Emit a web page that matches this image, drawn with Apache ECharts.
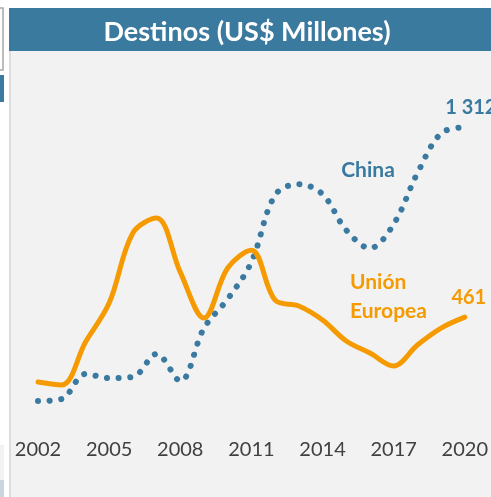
<!DOCTYPE html>
<html>
<head>
<meta charset="utf-8">
<script src="https://cdn.jsdelivr.net/npm/echarts@6/dist/echarts.min.js"></script>
<style>
  html, body { margin: 0; padding: 0; background: #ffffff; }
  #chart { width: 491px; height: 497px; }
</style>
</head>
<body>
<div id="chart"></div>
<script>
// datos (US$ millones)
var years = ['2002','2003','2004','2005','2006','2007','2008','2009','2010','2011',
             '2012','2013','2014','2015','2016','2017','2018','2019','2020'];
var china = [85, 94, 206, 188, 193, 296, 175, 412, 542, 708,
             1008, 1057, 1012, 851, 770, 878, 1106, 1285, 1312];
var ue    = [170, 157, 349, 524, 838, 905, 663, 457, 681, 761,
             537, 511, 448, 354, 300, 242, 336, 412, 461];

var azul = '#3a79a0';
var naranja = '#f59a00';
var fuente = 'Lato, "Open Sans", sans-serif';

function fmt(v) {
    return String(v).replace(/\B(?=(\d{3})+(?!\d))/g, ' ');
}

// solo el último punto lleva rótulo
function conEtiqueta(arr, color, offset) {
    return arr.map(function (v, i) {
        if (i !== arr.length - 1) return v;
        return {
            value: v,
            label: {
                show: true, position: 'top', distance: 10, offset: offset,
                formatter: fmt(v), color: color,
                fontSize: 20, fontWeight: 'bold', fontFamily: fuente
            }
        };
    });
}

var myChart = echarts.init(document.getElementById('chart'));

var option = {
    backgroundColor: '#ffffff',
    animation: false,
    graphic: [
        // caja gris arriba a la izquierda
        { type: 'rect', shape: { x: -4, y: 8, width: 7, height: 62 },
          style: { fill: '#ffffff', stroke: '#a6a6a6', lineWidth: 1.5 }, z: -5 },
        { type: 'rect', shape: { x: 0, y: 75, width: 4, height: 27 },
          style: { fill: azul }, z: -5 },
        { type: 'rect', shape: { x: 0, y: 445, width: 4, height: 35 },
          style: { fill: '#f2f2f2' }, z: -5 },
        { type: 'rect', shape: { x: 0, y: 480, width: 4, height: 17 },
          style: { fill: '#c9d6e0' }, z: -5 },
        // panel
        { type: 'rect', shape: { x: 9, y: 51, width: 482, height: 446 },
          style: { fill: '#f2f2f2' }, z: -5 },
        { type: 'rect', shape: { x: 9, y: 51, width: 2, height: 446 },
          style: { fill: '#dcdcdc' }, z: -4 },
        // barra de título
        { type: 'rect', shape: { x: 9, y: 8, width: 482, height: 43 },
          style: { fill: '#3b7a9f' }, z: -5 },
        { type: 'text', x: 247, y: 32,
          style: { text: 'Destinos (US$ Millones)', fill: '#ffffff',
                   font: 'bold 27px ' + fuente, textAlign: 'center', textVerticalAlign: 'middle' } },
        // rótulos de series
        { type: 'text', x: 368, y: 170,
          style: { text: 'China', fill: azul,
                   font: 'bold 21px ' + fuente, textAlign: 'center', textVerticalAlign: 'middle' } },
        { type: 'text', x: 350, y: 282,
          style: { text: 'Unión', fill: naranja,
                   font: 'bold 21px ' + fuente, textAlign: 'left', textVerticalAlign: 'middle' } },
        { type: 'text', x: 350, y: 311,
          style: { text: 'Europea', fill: naranja,
                   font: 'bold 21px ' + fuente, textAlign: 'left', textVerticalAlign: 'middle' } }
    ],
    grid: { left: 38, right: 24, top: 63, bottom: 77 },
    xAxis: {
        type: 'category',
        boundaryGap: false,
        data: years,
        axisLine: { show: false },
        axisTick: { show: false },
        axisLabel: {
            interval: 2, margin: 20,
            fontSize: 20, color: '#404040', fontFamily: fuente
        }
    },
    yAxis: {
        type: 'value',
        min: 0, max: 1600,
        show: false,
        splitLine: { show: false }
    },
    series: [
        {
            name: 'China',
            type: 'line',
            smooth: 0.35,
            symbol: 'circle',
            symbolSize: 0,
            showSymbol: true,
            lineStyle: { color: azul, width: 6, type: [0.1, 11.5], cap: 'round' },
            itemStyle: { color: azul },
            data: conEtiqueta(china, azul, [6, 0])
        },
        {
            name: 'Unión Europea',
            type: 'line',
            smooth: 0.35,
            symbol: 'circle',
            symbolSize: 0,
            showSymbol: true,
            lineStyle: { color: naranja, width: 5, cap: 'round' },
            itemStyle: { color: naranja },
            data: conEtiqueta(ue, naranja, [4, 0])
        }
    ]
};

myChart.setOption(option);
</script>
</body>
</html>
